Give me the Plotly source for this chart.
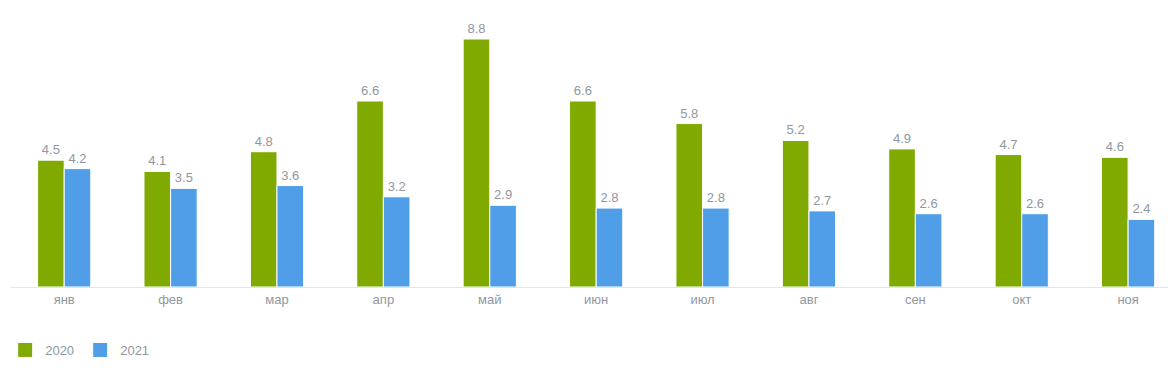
import plotly.graph_objects as go

months = ["янв", "фев", "мар", "апр", "май", "июн", "июл", "авг", "сен", "окт", "ноя"]
v2020 = [4.5, 4.1, 4.8, 6.6, 8.8, 6.6, 5.8, 5.2, 4.9, 4.7, 4.6]
v2021 = [4.2, 3.5, 3.6, 3.2, 2.9, 2.8, 2.8, 2.7, 2.6, 2.6, 2.4]

green = "#80aa00"
blue = "#509ee8"
grey = "#9097a0"
FONT = "Arial, Liberation Sans"

fig = go.Figure()
for name, vals, col in [("2020", v2020, green), ("2021", v2021, blue)]:
    fig.add_trace(go.Bar(
        x=months, y=vals, name=name, showlegend=False,
        marker=dict(color=col, line=dict(color="white", width=1)),
        text=[f"{v:.1f}" for v in vals], textposition="outside",
        textfont=dict(color=grey, size=13, family=FONT),
        cliponaxis=False,
    ))
    fig.add_trace(go.Scatter(
        x=[None], y=[None], mode="markers", name=name,
        marker=dict(symbol="square", size=15, color=col, line=dict(color="white", width=1)),
    ))

fig.update_layout(
    width=1168, height=364,
    margin=dict(l=3, r=0, t=0, b=85, autoexpand=False),
    paper_bgcolor="white", plot_bgcolor="white",
    barmode="group", bargap=0.5, bargroupgap=0,
    font=dict(family=FONT, color=grey, size=13),
    showlegend=True,
    legend=dict(orientation="h", x=-0.005, xanchor="left", y=-0.2258, yanchor="middle",
                font=dict(color=grey, size=13), entrywidth=30, entrywidthmode="pixels"),
    xaxis=dict(range=[-0.5, 10.45], showgrid=False, showline=True, linecolor="#e6e6e6",
               linewidth=1, ticks="", tickfont=dict(color=grey, size=13)),
    yaxis=dict(range=[0, 9.9], visible=False),
)
fig.write_html("out.html")
